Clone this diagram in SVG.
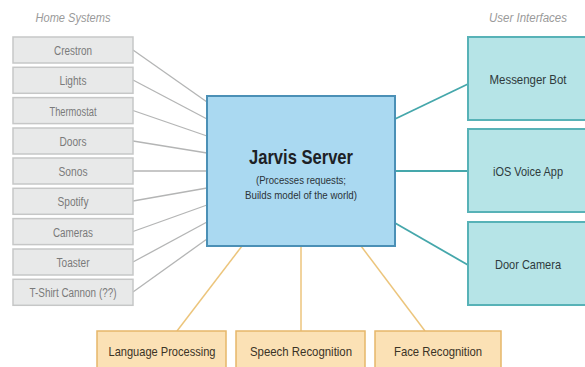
<svg xmlns="http://www.w3.org/2000/svg" width="585" height="367" viewBox="0 0 585 367">
<style>
.hs rect{fill:#e8e9e9;stroke:#c6c7c7;stroke-width:1.5}
.hs text{font-family:"Liberation Sans",Arial,sans-serif;font-size:12px;fill:#7a7a7a;text-anchor:middle}
.ui rect{fill:#b6e4e7;stroke:#57b2b7;stroke-width:2}
.ui text{font-family:"Liberation Sans",Arial,sans-serif;font-size:13px;fill:#2e3a3c;text-anchor:middle}
.ml rect{fill:#fbe1b5;stroke:#e6b76a;stroke-width:1.5}
.ml text{font-family:"Liberation Sans",Arial,sans-serif;font-size:13px;fill:#3a3326;text-anchor:middle}
.hdr{font-family:"Liberation Sans",Arial,sans-serif;font-size:12.5px;font-style:italic;fill:#9a9a9a;text-anchor:middle}
.gl{stroke:#b4b5b5;stroke-width:1.3;fill:none}
.tl{stroke:#45a7ab;stroke-width:1.8;fill:none}
.yl{stroke:#ecc57c;stroke-width:1.5;fill:none}
</style>

<text class="hdr" x="73" y="22" textLength="75" lengthAdjust="spacingAndGlyphs">Home Systems</text>
<text class="hdr" x="528" y="22" textLength="78" lengthAdjust="spacingAndGlyphs">User Interfaces</text>

<g id="connectors">
  <line class="gl" x1="133" y1="50" x2="207" y2="102"/>
  <line class="gl" x1="133" y1="80" x2="207" y2="119"/>
  <line class="gl" x1="133" y1="110.5" x2="207" y2="136"/>
  <line class="gl" x1="133" y1="141" x2="207" y2="153"/>
  <line class="gl" x1="133" y1="171" x2="207" y2="171"/>
  <line class="gl" x1="133" y1="201" x2="207" y2="188"/>
  <line class="gl" x1="133" y1="231.5" x2="207" y2="205"/>
  <line class="gl" x1="133" y1="262" x2="207" y2="222"/>
  <line class="gl" x1="133" y1="292" x2="207" y2="239"/>
  <line class="tl" x1="395" y1="119" x2="468" y2="84"/>
  <line class="tl" x1="395" y1="171" x2="468" y2="171"/>
  <line class="tl" x1="395" y1="223" x2="468" y2="265"/>
  <line class="yl" x1="242" y1="246" x2="177" y2="331"/>
  <line class="yl" x1="301" y1="246" x2="301" y2="331"/>
  <line class="yl" x1="361" y1="246" x2="425" y2="331"/>
</g>

<g id="crestron" class="hs"><rect x="13" y="37" width="120" height="26"/><text x="73" y="54.5" textLength="38" lengthAdjust="spacingAndGlyphs">Crestron</text></g>
<g id="lights" class="hs"><rect x="13" y="67.3" width="120" height="26"/><text x="73" y="85" textLength="27" lengthAdjust="spacingAndGlyphs">Lights</text></g>
<g id="thermostat" class="hs"><rect x="13" y="97.6" width="120" height="26"/><text x="73" y="115.5" textLength="47" lengthAdjust="spacingAndGlyphs">Thermostat</text></g>
<g id="doors" class="hs"><rect x="13" y="128" width="120" height="26"/><text x="73" y="146" textLength="27" lengthAdjust="spacingAndGlyphs">Doors</text></g>
<g id="sonos" class="hs"><rect x="13" y="158" width="120" height="26"/><text x="73" y="176" textLength="29" lengthAdjust="spacingAndGlyphs">Sonos</text></g>
<g id="spotify" class="hs"><rect x="13" y="188.3" width="120" height="26"/><text x="73" y="206" textLength="31" lengthAdjust="spacingAndGlyphs">Spotify</text></g>
<g id="cameras" class="hs"><rect x="13" y="218.6" width="120" height="26"/><text x="73" y="236.5" textLength="40" lengthAdjust="spacingAndGlyphs">Cameras</text></g>
<g id="toaster" class="hs"><rect x="13" y="249" width="120" height="26"/><text x="73" y="267" textLength="33" lengthAdjust="spacingAndGlyphs">Toaster</text></g>
<g id="tshirt-cannon" class="hs"><rect x="13" y="279.3" width="120" height="26"/><text x="73" y="297" textLength="87" lengthAdjust="spacingAndGlyphs">T-Shirt Cannon (??)</text></g>

<g id="jarvis-server">
  <rect x="207" y="96" width="188" height="150" fill="#aad9f1" stroke="#4b90b6" stroke-width="2"/>
  <text x="301" y="164" font-family="'Liberation Sans',Arial,sans-serif" font-size="21" font-weight="bold" fill="#1d2125" text-anchor="middle" textLength="104" lengthAdjust="spacingAndGlyphs">Jarvis Server</text>
  <text x="301" y="184" font-family="'Liberation Sans',Arial,sans-serif" font-size="10.5" fill="#2b3338" text-anchor="middle" textLength="90" lengthAdjust="spacingAndGlyphs">(Processes requests;</text>
  <text x="301" y="199" font-family="'Liberation Sans',Arial,sans-serif" font-size="10.5" fill="#2b3338" text-anchor="middle" textLength="112" lengthAdjust="spacingAndGlyphs">Builds model of the world)</text>
</g>

<g id="messenger-bot" class="ui"><rect x="468" y="37" width="130" height="83"/><text x="528" y="83.5" textLength="77" lengthAdjust="spacingAndGlyphs">Messenger Bot</text></g>
<g id="ios-voice-app" class="ui"><rect x="468" y="129" width="130" height="83"/><text x="528" y="175.5" textLength="70" lengthAdjust="spacingAndGlyphs">iOS Voice App</text></g>
<g id="door-camera" class="ui"><rect x="468" y="222" width="130" height="83"/><text x="528" y="268.5" textLength="66" lengthAdjust="spacingAndGlyphs">Door Camera</text></g>

<g id="language-processing" class="ml"><rect x="97" y="331" width="129" height="42"/><text x="162" y="355.5" textLength="107" lengthAdjust="spacingAndGlyphs">Language Processing</text></g>
<g id="speech-recognition" class="ml"><rect x="236" y="331" width="129" height="42"/><text x="301" y="355.5" textLength="102" lengthAdjust="spacingAndGlyphs">Speech Recognition</text></g>
<g id="face-recognition" class="ml"><rect x="375" y="331" width="126" height="42"/><text x="438" y="355.5" textLength="88" lengthAdjust="spacingAndGlyphs">Face Recognition</text></g>
</svg>
